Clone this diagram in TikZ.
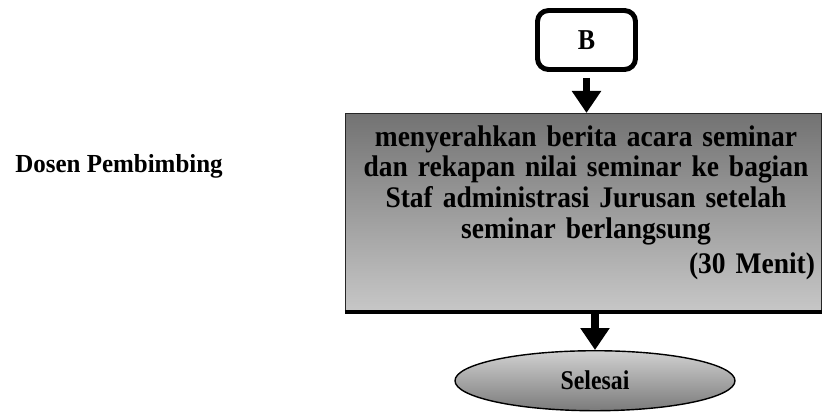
\documentclass[tikz,border=0pt]{standalone}
\usepackage{fontspec}
\setmainfont{Liberation Serif}
\usetikzlibrary{positioning,shapes.geometric,arrows.meta,calc}

\begin{document}
\begin{tikzpicture}[
conn/.style={rounded corners=0.22cm, draw=black, line width=2.8pt, minimum width=1.96cm, minimum height=1.18cm, font=\fontsize{16.4}{18}\selectfont\bfseries\addfontfeature{FakeStretch=0.9}},
proc/.style={draw=black!85, line width=0.6pt, top color=black!55, bottom color=black!22, minimum width=9.52cm, minimum height=3.96cm},
proctext/.style={text width=9.16cm, align=center, inner sep=0pt, font=\fontsize{17}{17.6}\selectfont\bfseries\addfontfeature{FakeStretch=0.92}},
term/.style={ellipse, draw=black, line width=0.8pt, top color=black!18, bottom color=black!52, minimum width=5.6cm, minimum height=1.2cm, font=\fontsize{15.4}{16}\selectfont\bfseries\addfontfeature{FakeStretch=0.88}},
lane/.style={inner sep=0pt, anchor=base west, font=\fontsize{14.8}{16}\selectfont\bfseries\addfontfeature{FakeStretch=0.96}},
flow/.style={line width=4.5pt, -{Triangle[length=0.44cm, width=0.56cm]}}
]
\useasboundingbox (0,0) rectangle (16.5,-8.3);

\node[lane] (dosen) at (0.3,-3.44) {Dosen Pembimbing};

\node[conn] (B) at (11.73,-0.80) {B};
\node[proc, below=0.82cm of B, xshift=-0.06cm] (proc) {};
\node[proctext] (proctxt) at ($(proc.center)+(0.05,0.2)$) {
    menyerahkan berita acara seminar\\
    dan rekapan nilai seminar ke bagian\\
    Staf administrasi Jurusan setelah\\
    seminar berlangsung\\[2pt]
    \makebox[9.16cm][r]{(30 Menit)}
};
\draw[line width=2pt] (proc.south west) -- (proc.south east);
\node[term, below=0.76cm of proc, xshift=0.23cm] (term) {Selesai};

\draw[flow, shorten <=0.12cm] (B.south) -- (B.south |- proc.north);
\draw[flow] (proc.south -| term.north) -- (term.north);
\end{tikzpicture}
\end{document}
